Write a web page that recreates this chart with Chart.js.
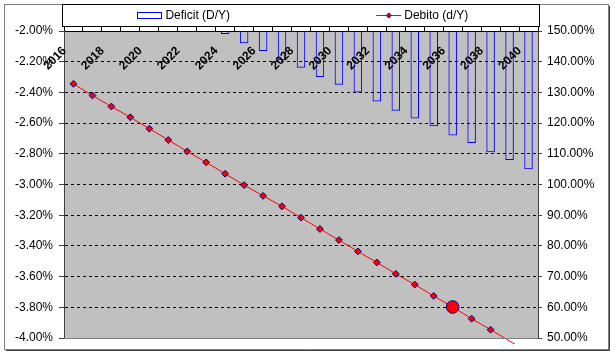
<!DOCTYPE html>
<html>
<head>
<meta charset="utf-8">
<style>
html,body{margin:0;padding:0;background:#fff;}
canvas{display:block;}
</style>
<script src="https://cdn.jsdelivr.net/npm/chart.js@4.4.0/dist/chart.umd.min.js"></script>
</head>
<body>
<canvas id="c" width="615" height="357"></canvas>
<script>
// ---- data ----
const years = ['2016','2017','2018','2019','2020','2021','2022','2023','2024','2025','2026','2027','2028',
               '2029','2030','2031','2032','2033','2034','2035','2036','2037','2038','2039','2040'];
const deficit = [null,null,null,null,null,null,null,null,
                 -2.02,-2.08,-2.13,-2.19,-2.24,-2.30,-2.35,-2.40,-2.46,-2.52,-2.57,-2.62,-2.68,-2.73,-2.79,-2.84,-2.90];
const debt = [132.8,129.0,125.4,121.9,118.2,114.5,110.8,107.2,103.5,99.8,96.3,92.9,89.2,
              85.5,81.9,78.2,74.6,70.9,67.4,63.7,60.1,56.3,52.7,49.0,45.4];
const leftTicks = [-4.0,-3.8,-3.6,-3.4,-3.2,-3.0,-2.8,-2.6,-2.4,-2.2,-2.0];
const rightTicks = [50,60,70,80,90,100,110,120,130,140,150];
const labeledYears = ['2016','2018','2020','2022','2024','2026','2028','2030','2032','2034','2036','2038','2040'];
const highlightYear = '2036';
const deficitLabel = 'Deficit (D/Y)';
const debtLabel = 'Debito (d/Y)';

Chart.defaults.font.family = "'Liberation Sans', Arial, sans-serif";
Chart.defaults.font.size = 12;
Chart.defaults.color = '#000';

const decor = {
  id: 'decor',
  beforeDraw(chart) {
    const {ctx, chartArea: a} = chart;
    ctx.save();
    ctx.fillStyle = '#ffffff';
    ctx.fillRect(0, 0, chart.width, chart.height);
    ctx.fillStyle = '#c0c0c0';
    ctx.fillRect(a.left, a.top, a.right - a.left, a.bottom - a.top);
    ctx.restore();
  },
  afterDraw(chart) {
    const {ctx, chartArea: a} = chart;
    const xs = chart.scales.x;
    ctx.save();
    // plot bottom border
    ctx.strokeStyle = '#808080';
    ctx.lineWidth = 1;
    ctx.beginPath();
    ctx.moveTo(a.left, Math.round(a.bottom) + 0.5);
    ctx.lineTo(a.right, Math.round(a.bottom) + 0.5);
    ctx.stroke();

    // outer frame
    ctx.strokeStyle = '#808080';
    ctx.strokeRect(4.5, 4.5, 604, 345);
    ctx.strokeStyle = '#404040';
    ctx.beginPath();
    ctx.moveTo(609.5, 6); ctx.lineTo(609.5, 350.5); ctx.lineTo(6, 350.5);
    ctx.stroke();

    // legend box
    const lx1 = Math.round(a.left) - 1.5, lx2 = Math.round(a.right) + 1.5;
    const ly1 = 4.5, ly2 = 26.5;
    ctx.strokeStyle = '#000';
    ctx.strokeRect(lx1, ly1, lx2 - lx1, ly2 - ly1);
    ctx.font = "12px 'Liberation Sans', Arial, sans-serif";
    ctx.textBaseline = 'middle';
    ctx.textAlign = 'left';
    ctx.fillStyle = '#000';
    const half = (lx2 - lx1) / 2;
    const ds = chart.data.datasets;
    const ty = 16;
    // item 1: deficit
    let w1 = 25 + 3 + ctx.measureText(ds[0].label).width;
    let s1 = lx1 + half / 2 - w1 / 2 + 2;
    ctx.strokeStyle = ds[0].borderColor;
    ctx.strokeRect(Math.round(s1) + 0.5, 12.5, 24, 6);
    ctx.fillText(ds[0].label, s1 + 28, ty);
    // item 2: debt
    let w2 = 25 + 3 + ctx.measureText(ds[1].label).width;
    let s2 = lx1 + half + half / 2 - w2 / 2 + 2;
    ctx.strokeStyle = ds[1].borderColor;
    ctx.beginPath();
    ctx.moveTo(s2, 15.5); ctx.lineTo(s2 + 25, 15.5);
    ctx.stroke();
    ctx.fillStyle = '#ff0000';
    ctx.strokeStyle = '#000080';
    ctx.beginPath();
    const mx = s2 + 12.5, my = 15.5, r = 2.5;
    ctx.moveTo(mx - r, my); ctx.lineTo(mx, my - r); ctx.lineTo(mx + r, my); ctx.lineTo(mx, my + r); ctx.closePath();
    ctx.fill(); ctx.stroke();
    ctx.fillStyle = '#000';
    ctx.fillText(ds[1].label, s2 + 28, ty);

    // rotated category labels inside plot area
    ctx.font = "bold 12px 'Liberation Sans', Arial, sans-serif";
    ctx.textAlign = 'right';
    ctx.textBaseline = 'middle';
    labeledYears.forEach(lbl => {
      const i = years.indexOf(lbl);
      const px = xs.getPixelForValue(i) - 9;
      const py = a.top + 18;
      ctx.save();
      ctx.translate(px, py);
      ctx.rotate(-Math.PI / 4);
      ctx.fillText(lbl, 0, 0);
      ctx.restore();
    });
    ctx.restore();
  }
};

new Chart(document.getElementById('c'), {
  type: 'bar',
  data: {
    labels: years,
    datasets: [
      {
        type: 'bar',
        label: deficitLabel,
        data: deficit,
        yAxisID: 'y',
        backgroundColor: 'rgba(0,0,0,0)',
        borderColor: '#0000ff',
        borderWidth: 1,
        categoryPercentage: 0.5,
        barPercentage: 0.9,
        order: 2
      },
      {
        type: 'line',
        label: debtLabel,
        data: debt,
        yAxisID: 'y2',
        borderColor: '#ff0000',
        borderWidth: 1,
        tension: 0,
        fill: false,
        pointStyle: c => years[c.dataIndex] === highlightYear ? 'circle' : 'rectRot',
        pointRadius: c => {
          const v = debt[c.dataIndex];
          if (v < rightTicks[0]) return 0;
          return years[c.dataIndex] === highlightYear ? 6.3 : 3.4;
        },
        pointBackgroundColor: '#ff0000',
        pointBorderColor: '#000080',
        pointBorderWidth: 1,
        clip: {left: 10, top: 10, right: 10, bottom: 6},
        order: 1
      }
    ]
  },
  options: {
    responsive: false,
    animation: false,
    devicePixelRatio: 1,
    layout: { padding: { left: 0, right: 0, top: 0, bottom: 19 } },
    plugins: { legend: { display: false }, tooltip: { enabled: false } },
    scales: {
      x: {
        type: 'category',
        position: 'top',
        offset: true,
        afterFit: s => { s.height = 31; },
        ticks: { display: false },
        grid: { offset: true, drawOnChartArea: false, drawTicks: true, tickLength: 4, tickColor: '#000', tickWidth: 1 },
        border: { display: true, color: '#000', width: 1 }
      },
      y: {
        position: 'left',
        min: leftTicks[0],
        max: leftTicks[leftTicks.length - 1],
        afterBuildTicks: s => { s.ticks = leftTicks.map(v => ({ value: v })); },
        afterFit: s => { s.width = 64; },
        ticks: { callback: v => Number(v).toFixed(2) + '%', color: '#000', padding: 6, font: { size: 12 } },
        grid: {
          color: c => (c.tick && (Math.abs(c.tick.value - leftTicks[0]) < 1e-9 || Math.abs(c.tick.value - leftTicks[leftTicks.length - 1]) < 1e-9)) ? 'rgba(0,0,0,0)' : '#000',
          lineWidth: 1,
          drawTicks: true,
          tickLength: 5,
          tickColor: '#404040'
        },
        border: { display: true, color: '#404040', width: 1, dash: [3, 3] }
      },
      y2: {
        position: 'right',
        min: rightTicks[0],
        max: rightTicks[rightTicks.length - 1],
        afterBuildTicks: s => { s.ticks = rightTicks.map(v => ({ value: v })); },
        afterFit: s => { s.width = 77; },
        ticks: { callback: v => Number(v).toFixed(2) + '%', color: '#000', padding: 5, font: { size: 12 } },
        grid: { drawOnChartArea: false, drawTicks: true, tickLength: 4, tickColor: '#404040' },
        border: { display: true, color: '#404040', width: 1 }
      }
    }
  },
  plugins: [decor]
});
</script>
</body>
</html>
